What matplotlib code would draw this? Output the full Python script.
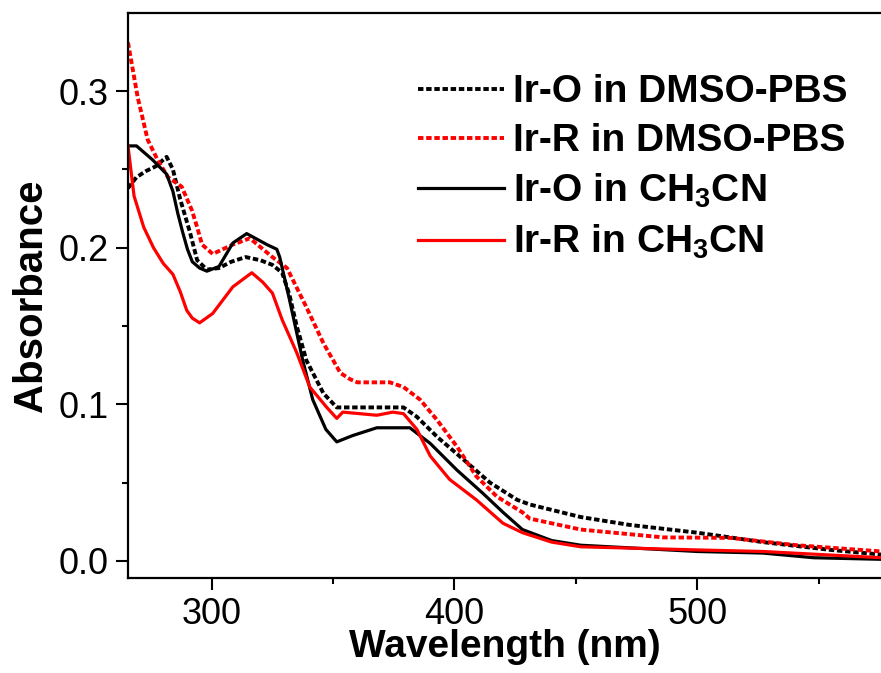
import matplotlib.pyplot as plt

plt.rcParams['font.family'] = ['Liberation Sans', 'DejaVu Sans']
plt.rcParams['mathtext.fontset'] = 'custom'
plt.rcParams['mathtext.rm'] = 'Liberation Sans:bold'
plt.rcParams['mathtext.default'] = 'rm'

# Ir-O in DMSO-PBS (dashed black)
wl_o_pbs = [265.5, 269, 273, 277, 281.4, 284, 287, 291, 294, 298, 303, 308, 314, 320, 325, 329,
            332, 335, 339, 346, 351.5, 360, 369, 379, 384.5, 393, 403.5, 414.6, 425.8, 431,
            452, 472, 500, 527, 555, 576]
abs_o_pbs = [0.238, 0.245, 0.249, 0.252, 0.258, 0.250, 0.231, 0.210, 0.192, 0.186, 0.187, 0.191, 0.194, 0.192, 0.189, 0.184,
             0.170, 0.150, 0.128, 0.107, 0.098, 0.098, 0.098, 0.098, 0.092, 0.079, 0.065, 0.050, 0.039, 0.036,
             0.028, 0.023, 0.018, 0.012, 0.007, 0.004]

# Ir-R in DMSO-PBS (dashed red)
wl_r_pbs = [265.5, 269.5, 273.6, 277.7, 282, 287.6, 291.8, 294, 296, 300.4, 308.7, 315.7, 325, 331,
            339, 346, 353, 357, 360, 368, 373.4, 379, 385.8, 392.8, 401, 409, 417.5, 428, 431,
            452, 486, 513.6, 541, 576]
abs_r_pbs = [0.331, 0.296, 0.269, 0.256, 0.245, 0.239, 0.224, 0.213, 0.202, 0.196, 0.202, 0.206, 0.194, 0.187,
             0.162, 0.139, 0.120, 0.116, 0.114, 0.114, 0.114, 0.111, 0.103, 0.090, 0.073, 0.054, 0.041, 0.031, 0.027,
             0.020, 0.015, 0.0147, 0.010, 0.006]

# Ir-O in CH3CN (solid black)
wl_o_acn = [265.5, 269, 275.7, 281.4, 284, 286, 288, 290, 292, 295, 298, 303, 308.7, 314.4, 322.7, 326.8, 328,
            332, 337.5, 341.6, 347, 351.5, 358, 368, 381.6, 390, 401, 411.8, 420, 428,
            440, 452, 500, 527, 548, 576]
abs_o_acn = [0.265, 0.265, 0.256, 0.247, 0.236, 0.222, 0.210, 0.199, 0.191, 0.187, 0.185, 0.188, 0.203, 0.209, 0.202, 0.199, 0.194,
             0.167, 0.128, 0.103, 0.084, 0.076, 0.080, 0.085, 0.085, 0.075, 0.058, 0.043, 0.031, 0.020,
             0.013, 0.010, 0.006, 0.005, 0.002, 0.001]

# Ir-R in CH3CN (solid red)
wl_r_acn = [265.5, 268, 272, 276, 280, 284, 287, 289.7, 292, 295, 300.4, 308.7, 316.5, 321, 325, 329,
            335, 340.4, 347.4, 351.5, 354, 368, 374.6, 379, 384.5, 390, 398, 409, 420, 428,
            440, 452, 500, 527, 576]
abs_r_acn = [0.265, 0.233, 0.213, 0.200, 0.190, 0.183, 0.172, 0.160, 0.155, 0.152, 0.158, 0.175, 0.184, 0.178, 0.171, 0.154,
             0.133, 0.111, 0.098, 0.091, 0.095, 0.093, 0.095, 0.094, 0.084, 0.067, 0.052, 0.039, 0.024, 0.018,
             0.012, 0.009, 0.007, 0.006, 0.002]

fig = plt.figure(figsize=(8.81, 6.73), dpi=100)
ax = fig.add_axes([0.145, 0.141, 0.855, 0.84])

dash = (0, (1.4, 0.7))
ax.plot(wl_o_pbs, abs_o_pbs, color='black', lw=2.8, ls=dash, label='Ir-O in DMSO-PBS')
ax.plot(wl_r_pbs, abs_r_pbs, color='#ff0000', lw=2.8, ls=dash, label='Ir-R in DMSO-PBS')
ax.plot(wl_o_acn, abs_o_acn, color='black', lw=2.3, label=r'Ir-O in CH$_3$CN')
ax.plot(wl_r_acn, abs_r_acn, color='#ff0000', lw=2.3, label=r'Ir-R in CH$_3$CN')

ax.set_xlim(265.4, 575.7)
ax.set_ylim(-0.011, 0.350)
ax.set_xticks([300, 400, 500])
ax.set_xticks([350, 450, 550], minor=True)
ax.set_yticks([0.0, 0.1, 0.2, 0.3])
ax.set_yticks([0.05, 0.15, 0.25], minor=True)
ax.tick_params(which='major', length=8.5, width=1.5, labelsize=26, pad=5)
ax.tick_params(which='minor', length=4.5, width=1.5)
ax.tick_params(top=False, right=False)
for s in ['left', 'bottom', 'top']:
    ax.spines[s].set_linewidth(1.6)
ax.spines['right'].set_visible(False)

ax.set_xlabel('Wavelength (nm)', fontsize=28, fontweight='bold', labelpad=-2)
ax.set_ylabel('Absorbance', fontsize=29, fontweight='bold', labelpad=6)

leg = ax.legend(loc='upper left', bbox_to_anchor=(0.339, 0.953), frameon=False,
                fontsize=28, handlelength=2.2, handletextpad=0.25, labelspacing=0.33)
for t in leg.get_texts():
    t.set_fontweight('bold')

fig.savefig('out.png', dpi=100)
